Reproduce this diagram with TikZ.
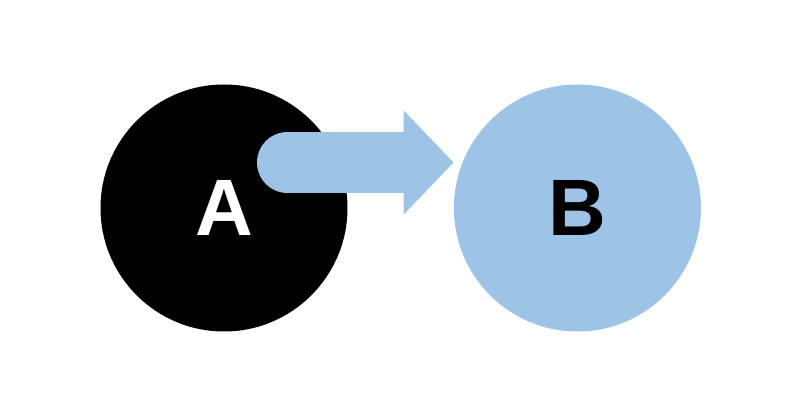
\documentclass[tikz,border=0pt]{standalone}
\usepackage{fontspec}
\setmainfont{Liberation Sans}
\usetikzlibrary{positioning,arrows.meta,calc}
\definecolor{lightblue}{HTML}{9DC3E6}
\tikzset{
  ball/.style={circle, minimum size=247pt, inner sep=0pt, font=\fontsize{80}{80}\selectfont\bfseries},
  flow/.style={draw=lightblue, line width=61pt, line cap=round, -{Triangle[length=50pt,width=101pt]}},
}
\begin{document}
\begin{tikzpicture}[x=1pt,y=1pt]
  \useasboundingbox (0,0) rectangle (800,419);
  \node[ball, fill=black, text=white] (A) at (224,211) {A};
  \node[ball, fill=lightblue, text=black, right=106pt of A] (B) {B};
  \coordinate (tail) at ($(A.center)+(63.5,45.5)$);
  \coordinate (head) at (tail -| B.west);
  \draw[flow] (tail) -- (head);
\end{tikzpicture}
\end{document}
